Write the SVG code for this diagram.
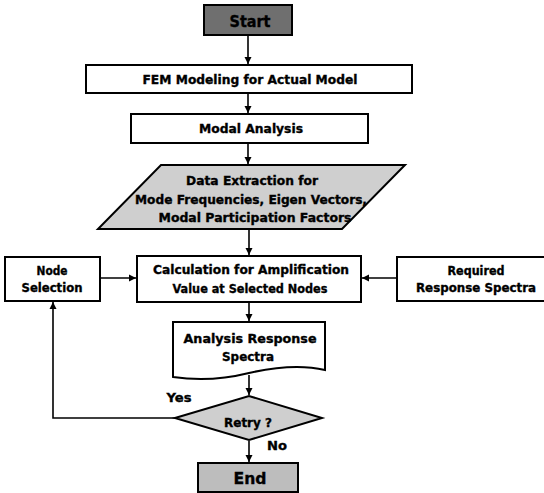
<svg xmlns="http://www.w3.org/2000/svg" width="544" height="493" viewBox="0 0 544 493">
<style>
.box{fill:#ffffff;stroke:#000;stroke-width:2}
.dark{fill:#6f6f6f;stroke:#000;stroke-width:2}
.light{fill:#bdbdbd;stroke:#000;stroke-width:2}
.pale{fill:#cfcfcf;stroke:#000;stroke-width:2}
.t{font-family:"DejaVu Sans",Verdana,sans-serif;font-weight:bold;font-size:12px;fill:#000;stroke:#000;stroke-width:0.35;text-anchor:middle}
.big{font-size:15px}
.c{fill:none;stroke:#000;stroke-width:1.6}
</style>
<defs>
<marker id="ah" markerWidth="8" markerHeight="8" refX="7" refY="4" orient="auto" markerUnits="userSpaceOnUse">
<path d="M0,0.5 L7,4 L0,7.5 Z" fill="#000"/>
</marker>
</defs>
<g id="connectors">
<path class="c" d="M248,36 V64" marker-end="url(#ah)"/>
<path class="c" d="M248,94 V113" marker-end="url(#ah)"/>
<path class="c" d="M248,144 V164" marker-end="url(#ah)"/>
<path class="c" d="M249,230 V255" marker-end="url(#ah)"/>
<path class="c" d="M101,278 H136" marker-end="url(#ah)"/>
<path class="c" d="M396,278 H362" marker-end="url(#ah)"/>
<path class="c" d="M249,303 V321" marker-end="url(#ah)"/>
<path class="c" d="M249,375 V395" marker-end="url(#ah)"/>
<path class="c" d="M249,441 V462" marker-end="url(#ah)"/>
<path class="c" d="M175,418 H53 V302" marker-end="url(#ah)"/>
</g>
<g id="start">
<rect class="dark" x="204" y="5" width="88" height="30"/>
<text class="t big" x="250" y="27" textLength="41" lengthAdjust="spacingAndGlyphs">Start</text>
</g>
<g id="fem">
<rect class="box" x="86" y="65" width="326" height="28"/>
<text class="t" x="250" y="84" textLength="215" lengthAdjust="spacingAndGlyphs">FEM Modeling for Actual Model</text>
</g>
<g id="modal">
<rect class="box" x="131" y="114" width="237" height="29"/>
<text class="t" x="251" y="133" textLength="104" lengthAdjust="spacingAndGlyphs">Modal Analysis</text>
</g>
<g id="data">
<polygon class="pale" points="161,165 405,165 342,229 98,229"/>
<text class="t" x="252" y="185" textLength="132" lengthAdjust="spacingAndGlyphs">Data Extraction for</text>
<text class="t" x="251" y="204" textLength="232" lengthAdjust="spacingAndGlyphs">Mode Frequencies, Eigen Vectors,</text>
<text class="t" x="255" y="222" textLength="193" lengthAdjust="spacingAndGlyphs">Modal Participation Factors</text>
</g>
<g id="nodesel">
<rect class="box" x="5" y="257" width="95" height="44"/>
<text class="t" x="52" y="275" textLength="31" lengthAdjust="spacingAndGlyphs">Node</text>
<text class="t" x="52" y="292" textLength="61" lengthAdjust="spacingAndGlyphs">Selection</text>
</g>
<g id="calc">
<rect class="box" x="137" y="256" width="224" height="46"/>
<text class="t" x="251" y="274" textLength="196" lengthAdjust="spacingAndGlyphs">Calculation for Amplification</text>
<text class="t" x="250" y="293" textLength="155" lengthAdjust="spacingAndGlyphs">Value at Selected Nodes</text>
</g>
<g id="required">
<rect class="box" x="397" y="257" width="160" height="44"/>
<text class="t" x="476" y="275" textLength="57" lengthAdjust="spacingAndGlyphs">Required</text>
<text class="t" x="476" y="292" textLength="120" lengthAdjust="spacingAndGlyphs">Response Spectra</text>
</g>
<g id="analysis">
<path class="box" d="M173,322 H325 V370 C300,364 275,367 249,373 C225,379 200,381 173,377 Z"/>
<text class="t" x="250" y="343" textLength="133" lengthAdjust="spacingAndGlyphs">Analysis Response</text>
<text class="t" x="248" y="361" textLength="52" lengthAdjust="spacingAndGlyphs">Spectra</text>
</g>
<g id="retry">
<polygon class="pale" points="175,418 249,396 322,418 249,440"/>
<text class="t" x="248" y="427" textLength="48" lengthAdjust="spacingAndGlyphs">Retry ?</text>
</g>
<g id="end">
<rect class="light" x="198" y="463" width="100" height="29"/>
<text class="t big" x="250" y="484" textLength="33" lengthAdjust="spacingAndGlyphs">End</text>
</g>
<g id="labels">
<text class="t" x="179" y="402" textLength="25" lengthAdjust="spacingAndGlyphs">Yes</text>
<text class="t" x="277" y="450" textLength="20" lengthAdjust="spacingAndGlyphs">No</text>
</g>
</svg>
